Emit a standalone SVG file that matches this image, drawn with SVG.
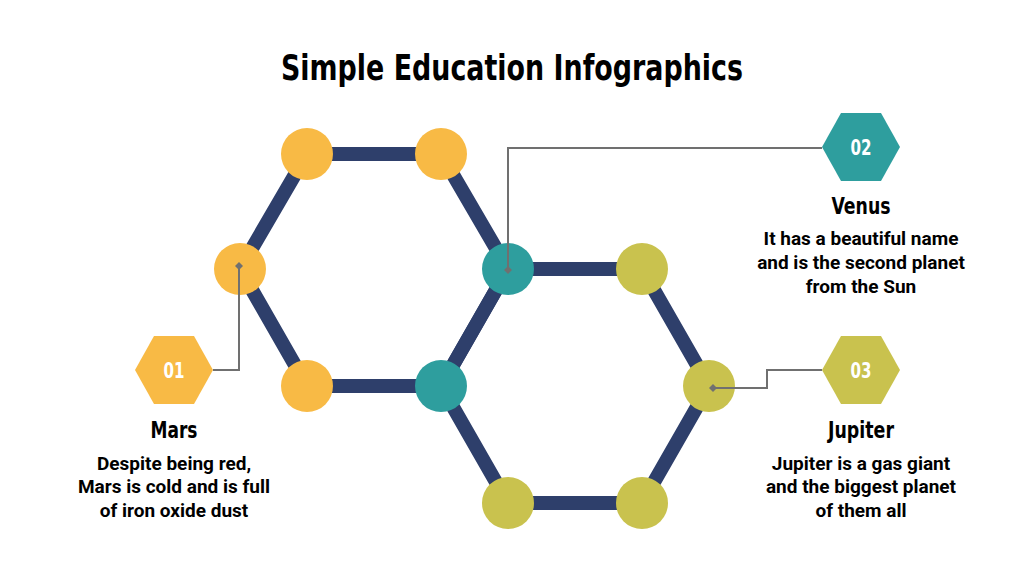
<svg xmlns="http://www.w3.org/2000/svg" width="1024" height="576" viewBox="0 0 1024 576">
<style>
.title{font-family:"DejaVu Sans Condensed","Roboto",sans-serif;font-weight:bold;font-size:36px;fill:#000;text-anchor:middle}
.head{font-family:"DejaVu Sans Condensed","Roboto",sans-serif;font-weight:bold;font-size:23px;fill:#000;text-anchor:middle}
.num{font-family:"DejaVu Sans Condensed","Roboto",sans-serif;font-weight:bold;font-size:21px;fill:#fff;text-anchor:middle}
.body{font-family:"Roboto","Liberation Sans",sans-serif;font-weight:bold;font-size:19px;fill:#000;text-anchor:middle}
.edge{stroke:#2E3F6B;stroke-width:14;fill:none}
.conn{stroke:#707070;stroke-width:2;fill:none}
.o{fill:#F8BA45}.t{fill:#2E9E9E}.g{fill:#C9C24E}
</style>
<defs>
<marker id="dia" viewBox="-5 -5 10 10" markerWidth="8" markerHeight="8" markerUnits="userSpaceOnUse" orient="auto">
<path d="M-5 0L0-5L5 0L0 5Z" fill="#707070"/>
</marker>
</defs>
<text class="title" x="512" y="80" textLength="462" lengthAdjust="spacingAndGlyphs">Simple Education Infographics</text>
<g id="edges">
<path class="edge" d="M307 154L441 154L508 269L441 386L307 386L240 269Z"/>
<path class="edge" d="M508 269L642 269L709 386L642 503L508 503L441 386Z"/>
</g>
<g id="circles">
<circle id="c1" class="o" cx="307" cy="154" r="26"/>
<circle id="c2" class="o" cx="441" cy="154" r="26"/>
<circle id="c3" class="o" cx="240" cy="269" r="26"/>
<circle id="c4" class="t" cx="508" cy="269" r="26"/>
<circle id="c5" class="o" cx="307" cy="386" r="26"/>
<circle id="c6" class="t" cx="441" cy="386" r="26"/>
<circle id="c7" class="g" cx="642" cy="269" r="26"/>
<circle id="c8" class="g" cx="709" cy="386" r="26"/>
<circle id="c9" class="g" cx="642" cy="503" r="26"/>
<circle id="c10" class="g" cx="508" cy="503" r="26"/>
</g>
<g id="connectors">
<path class="conn" d="M508 270V148H822" marker-start="url(#dia)"/>
<path class="conn" d="M239 266V370H213" marker-start="url(#dia)"/>
<path class="conn" d="M713 388H767V370H822" marker-start="url(#dia)"/>
</g>
<g id="n01">
<polygon class="o" points="135,370 154,336 194,336 213,370 194,404 154,404"/>
<text class="num" x="174" y="378" textLength="21" lengthAdjust="spacingAndGlyphs">01</text>
<text class="head" x="174" y="438" textLength="47" lengthAdjust="spacingAndGlyphs">Mars</text>
<text class="body" x="174" y="470">Despite being red,</text>
<text class="body" x="174" y="493">Mars is cold and is full</text>
<text class="body" x="174" y="517">of iron oxide dust</text>
</g>
<g id="n02">
<polygon class="t" points="822,147 841,113 881,113 900,147 881,181 841,181"/>
<text class="num" x="861" y="155" textLength="21" lengthAdjust="spacingAndGlyphs">02</text>
<text class="head" x="861" y="214" textLength="59" lengthAdjust="spacingAndGlyphs">Venus</text>
<text class="body" x="861" y="245">It has a beautiful name</text>
<text class="body" x="861" y="269">and is the second planet</text>
<text class="body" x="861" y="293">from the Sun</text>
</g>
<g id="n03">
<polygon class="g" points="822,370 841,336 881,336 900,370 881,404 841,404"/>
<text class="num" x="861" y="378" textLength="21" lengthAdjust="spacingAndGlyphs">03</text>
<text class="head" x="861" y="438" textLength="66" lengthAdjust="spacingAndGlyphs">Jupiter</text>
<text class="body" x="861" y="470">Jupiter is a gas giant</text>
<text class="body" x="861" y="493">and the biggest planet</text>
<text class="body" x="861" y="517">of them all</text>
</g>
</svg>
